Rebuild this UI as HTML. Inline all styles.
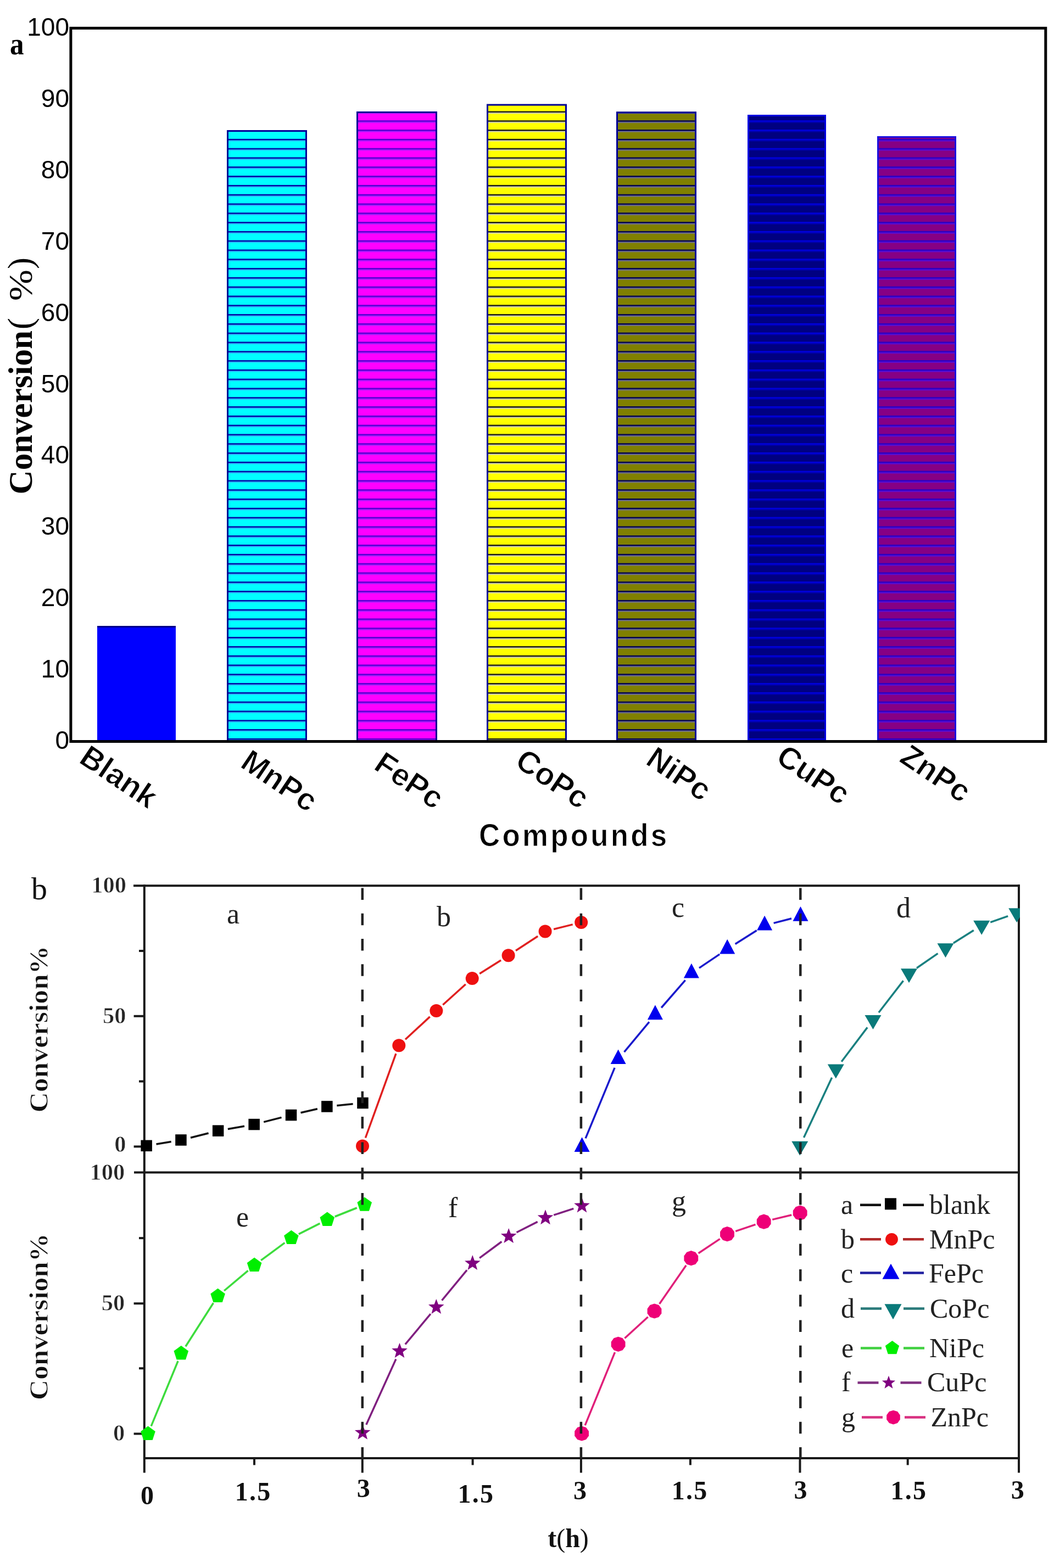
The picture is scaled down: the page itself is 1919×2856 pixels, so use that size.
<!DOCTYPE html>
<html><head><meta charset="utf-8"><title>Figure</title>
<style>html,body{margin:0;padding:0;background:#fff;}body{width:1919px;height:2856px;overflow:hidden;}svg{display:block;}</style>
</head><body>
<svg width="1919" height="2856" viewBox="0 0 1919 2856"><defs><pattern id="p1" patternUnits="userSpaceOnUse" x="0" y="1344.9" width="40" height="16.8"><rect width="40" height="16.8" fill="#00ffff"/><rect y="0" width="40" height="2.7" fill="#0000a0"/><rect y="2.7" width="40" height="1.8" fill="#30b8ff"/></pattern><pattern id="p2" patternUnits="userSpaceOnUse" x="0" y="1344.9" width="40" height="16.8"><rect width="40" height="16.8" fill="#ff00ff"/><rect y="0" width="40" height="2.7" fill="#5000d0"/><rect y="2.7" width="40" height="1.8" fill="#a020ff"/></pattern><pattern id="p3" patternUnits="userSpaceOnUse" x="0" y="1344.9" width="40" height="16.8"><rect width="40" height="16.8" fill="#ffff00"/><rect y="0" width="40" height="2.7" fill="#151515"/><rect y="2.7" width="40" height="1.8" fill="#d4d4d4"/></pattern><pattern id="p4" patternUnits="userSpaceOnUse" x="0" y="1344.9" width="40" height="16.8"><rect width="40" height="16.8" fill="#808000"/><rect y="0" width="40" height="2.7" fill="#000050"/><rect y="2.7" width="40" height="1.8" fill="#7070b0"/></pattern><pattern id="p5" patternUnits="userSpaceOnUse" x="0" y="1344.9" width="40" height="16.8"><rect width="40" height="16.8" fill="#000080"/><rect y="0" width="40" height="2.7" fill="#0000e0"/><rect y="2.7" width="40" height="1.8" fill="#0000b0"/></pattern><pattern id="p6" patternUnits="userSpaceOnUse" x="0" y="1344.9" width="40" height="16.8"><rect width="40" height="16.8" fill="#860084"/><rect y="0" width="40" height="2.7" fill="#2a00c4"/><rect y="2.7" width="40" height="1.8" fill="#5012e4"/></pattern><clipPath id="clipb"><rect x="240" y="1600" width="1617" height="1060"/></clipPath></defs>
<rect x="177" y="1140" width="143" height="210.5" fill="#0000ff"/>
<rect x="177" y="1140" width="143" height="3" fill="#00008b"/>
<rect x="413" y="237" width="146" height="1113.5" fill="url(#p1)"/>
<rect x="414.5" y="238.5" width="143" height="1112.0" fill="none" stroke="#000096" stroke-width="3"/>
<rect x="649" y="203" width="147" height="1147.5" fill="url(#p2)"/>
<rect x="650.5" y="204.5" width="144" height="1146.0" fill="none" stroke="#000096" stroke-width="3"/>
<rect x="886" y="189.5" width="146" height="1161.0" fill="url(#p3)"/>
<rect x="887.5" y="191.0" width="143" height="1159.5" fill="none" stroke="#000096" stroke-width="3"/>
<rect x="1122" y="203.5" width="146" height="1147.0" fill="url(#p4)"/>
<rect x="1123.5" y="205.0" width="143" height="1145.5" fill="none" stroke="#000096" stroke-width="3"/>
<rect x="1361" y="209" width="143" height="1141.5" fill="url(#p5)"/>
<rect x="1362.5" y="210.5" width="140" height="1140.0" fill="none" stroke="#0000e0" stroke-width="3"/>
<rect x="1597" y="248" width="144" height="1102.5" fill="url(#p6)"/>
<rect x="1598.5" y="249.5" width="141" height="1101.0" fill="none" stroke="#1a10e0" stroke-width="3"/>
<rect x="128.9" y="51.3" width="1774.9" height="1299.2" fill="none" stroke="#000" stroke-width="5"/>
<text x="126" y="65.0" font-family="'Liberation Sans', Arial, sans-serif" font-size="46" text-anchor="end" fill="#000">100</text>
<text x="126" y="194.9" font-family="'Liberation Sans', Arial, sans-serif" font-size="46" text-anchor="end" fill="#000">90</text>
<text x="126" y="324.8" font-family="'Liberation Sans', Arial, sans-serif" font-size="46" text-anchor="end" fill="#000">80</text>
<text x="126" y="454.7" font-family="'Liberation Sans', Arial, sans-serif" font-size="46" text-anchor="end" fill="#000">70</text>
<text x="126" y="584.6" font-family="'Liberation Sans', Arial, sans-serif" font-size="46" text-anchor="end" fill="#000">60</text>
<text x="126" y="714.5" font-family="'Liberation Sans', Arial, sans-serif" font-size="46" text-anchor="end" fill="#000">50</text>
<text x="126" y="844.4" font-family="'Liberation Sans', Arial, sans-serif" font-size="46" text-anchor="end" fill="#000">40</text>
<text x="126" y="974.3" font-family="'Liberation Sans', Arial, sans-serif" font-size="46" text-anchor="end" fill="#000">30</text>
<text x="126" y="1104.2" font-family="'Liberation Sans', Arial, sans-serif" font-size="46" text-anchor="end" fill="#000">20</text>
<text x="126" y="1234.1" font-family="'Liberation Sans', Arial, sans-serif" font-size="46" text-anchor="end" fill="#000">10</text>
<text x="126" y="1364.0" font-family="'Liberation Sans', Arial, sans-serif" font-size="46" text-anchor="end" fill="#000">0</text>
<text transform="translate(18,99) scale(0.88,1)" font-family="'Liberation Serif', 'Times New Roman', serif" font-weight="bold" font-size="58" fill="#000">a</text>
<text transform="translate(58,900.4) rotate(-90)" font-family="'Liberation Serif', 'Times New Roman', serif" font-weight="bold" font-size="61" fill="#000">Conversion</text>
<text transform="translate(58,600) rotate(-90)" font-family="'Liberation Serif', 'Times New Roman', serif" font-size="63" fill="#000">(</text>
<text transform="translate(58,548) rotate(-90) scale(1.12,1)" font-family="'Liberation Serif', 'Times New Roman', serif" font-size="61" fill="#000">%</text>
<text transform="translate(58,490) rotate(-90)" font-family="'Liberation Serif', 'Times New Roman', serif" font-size="63" fill="#000">)</text>
<text transform="translate(141.2,1387.4) rotate(34)" font-family="'Liberation Sans', Arial, sans-serif" font-weight="bold" font-size="57" fill="#000" stroke="#fff" stroke-width="1.2">Blank</text>
<text transform="translate(435,1395.7) rotate(34)" font-family="'Liberation Sans', Arial, sans-serif" font-weight="bold" font-size="57" fill="#000" stroke="#fff" stroke-width="1.2">MnPc</text>
<text transform="translate(678.1,1399.6) rotate(34)" font-family="'Liberation Sans', Arial, sans-serif" font-weight="bold" font-size="57" fill="#000" stroke="#fff" stroke-width="1.2">FePc</text>
<text transform="translate(934.7,1393.8) rotate(34)" font-family="'Liberation Sans', Arial, sans-serif" font-weight="bold" font-size="57" fill="#000" stroke="#fff" stroke-width="1.2">CoPc</text>
<text transform="translate(1172.9,1390.2) rotate(34)" font-family="'Liberation Sans', Arial, sans-serif" font-weight="bold" font-size="57" fill="#000" stroke="#fff" stroke-width="1.2">NiPc</text>
<text transform="translate(1409.8,1386.2) rotate(34)" font-family="'Liberation Sans', Arial, sans-serif" font-weight="bold" font-size="57" fill="#000" stroke="#fff" stroke-width="1.2">CuPc</text>
<text transform="translate(1635.2,1385.9) rotate(34)" font-family="'Liberation Sans', Arial, sans-serif" font-weight="bold" font-size="57" fill="#000" stroke="#fff" stroke-width="1.2">ZnPc</text>
<text transform="translate(872,1541) scale(0.92,1)" font-family="'Liberation Sans', Arial, sans-serif" font-weight="bold" font-size="57.5" textLength="372" lengthAdjust="spacing" fill="#000" stroke="#fff" stroke-width="1">Compounds</text>
<line x1="243" y1="1613.3" x2="1857" y2="1613.3" stroke="#1a1a1a" stroke-width="4"/>
<line x1="244" y1="2135.5" x2="1857" y2="2135.5" stroke="#1a1a1a" stroke-width="4"/>
<line x1="262.8" y1="2656" x2="1857" y2="2656" stroke="#1a1a1a" stroke-width="4"/>
<line x1="262.8" y1="1611.3" x2="262.8" y2="2682.5" stroke="#1a1a1a" stroke-width="4"/>
<line x1="1855" y1="1611.3" x2="1855" y2="2682.5" stroke="#1a1a1a" stroke-width="4"/>
<line x1="243.6" y1="2088.4" x2="262.8" y2="2088.4" stroke="#1a1a1a" stroke-width="4"/>
<line x1="243.6" y1="1850.8" x2="262.8" y2="1850.8" stroke="#1a1a1a" stroke-width="4"/>
<line x1="243.6" y1="2611.5" x2="262.8" y2="2611.5" stroke="#1a1a1a" stroke-width="4"/>
<line x1="243.6" y1="2374.2" x2="262.8" y2="2374.2" stroke="#1a1a1a" stroke-width="4"/>
<line x1="253" y1="1969.6" x2="262.8" y2="1969.6" stroke="#1a1a1a" stroke-width="4"/>
<line x1="253" y1="1732" x2="262.8" y2="1732" stroke="#1a1a1a" stroke-width="4"/>
<line x1="253" y1="2492.3" x2="262.8" y2="2492.3" stroke="#1a1a1a" stroke-width="4"/>
<line x1="253" y1="2255.1" x2="262.8" y2="2255.1" stroke="#1a1a1a" stroke-width="4"/>
<line x1="659.8" y1="2656" x2="659.8" y2="2682.5" stroke="#1a1a1a" stroke-width="4"/>
<line x1="1057.9" y1="2656" x2="1057.9" y2="2682.5" stroke="#1a1a1a" stroke-width="4"/>
<line x1="1456.5" y1="2656" x2="1456.5" y2="2682.5" stroke="#1a1a1a" stroke-width="4"/>
<line x1="463" y1="2656" x2="463" y2="2668.5" stroke="#1a1a1a" stroke-width="4"/>
<line x1="860.6" y1="2656" x2="860.6" y2="2668.5" stroke="#1a1a1a" stroke-width="4"/>
<line x1="1256.9" y1="2656" x2="1256.9" y2="2668.5" stroke="#1a1a1a" stroke-width="4"/>
<line x1="1652.7" y1="2656" x2="1652.7" y2="2668.5" stroke="#1a1a1a" stroke-width="4"/>
<text x="230" y="1626.4" font-family="'Liberation Serif', 'Times New Roman', serif" font-weight="bold" font-size="42.5" text-anchor="end" fill="#262626" stroke="#fff" stroke-width="0.8">100</text>
<text x="229.5" y="1864" font-family="'Liberation Serif', 'Times New Roman', serif" font-weight="bold" font-size="42.5" text-anchor="end" fill="#262626" stroke="#fff" stroke-width="0.8">50</text>
<text x="229.5" y="2097.8" font-family="'Liberation Serif', 'Times New Roman', serif" font-weight="bold" font-size="42.5" text-anchor="end" fill="#262626" stroke="#fff" stroke-width="0.8">0</text>
<text x="227.3" y="2148.6" font-family="'Liberation Serif', 'Times New Roman', serif" font-weight="bold" font-size="42.5" text-anchor="end" fill="#262626" stroke="#fff" stroke-width="0.8">100</text>
<text x="227.3" y="2387" font-family="'Liberation Serif', 'Times New Roman', serif" font-weight="bold" font-size="42.5" text-anchor="end" fill="#262626" stroke="#fff" stroke-width="0.8">50</text>
<text x="227.3" y="2624.2" font-family="'Liberation Serif', 'Times New Roman', serif" font-weight="bold" font-size="42.5" text-anchor="end" fill="#262626" stroke="#fff" stroke-width="0.8">0</text>
<text x="268" y="2740" font-family="'Liberation Serif', 'Times New Roman', serif" font-weight="bold" font-size="48" text-anchor="middle" fill="#111">0</text>
<text x="461.15" y="2732.8" font-family="'Liberation Serif', 'Times New Roman', serif" font-weight="bold" font-size="48" text-anchor="middle" letter-spacing="2.3" fill="#111">1.5</text>
<text x="661.7" y="2727" font-family="'Liberation Serif', 'Times New Roman', serif" font-weight="bold" font-size="48" text-anchor="middle" fill="#111">3</text>
<text x="866.9499999999999" y="2737.4" font-family="'Liberation Serif', 'Times New Roman', serif" font-weight="bold" font-size="48" text-anchor="middle" letter-spacing="2.3" fill="#111">1.5</text>
<text x="1056" y="2731" font-family="'Liberation Serif', 'Times New Roman', serif" font-weight="bold" font-size="48" text-anchor="middle" fill="#111">3</text>
<text x="1256.15" y="2731" font-family="'Liberation Serif', 'Times New Roman', serif" font-weight="bold" font-size="48" text-anchor="middle" letter-spacing="2.3" fill="#111">1.5</text>
<text x="1457.6" y="2730" font-family="'Liberation Serif', 'Times New Roman', serif" font-weight="bold" font-size="48" text-anchor="middle" fill="#111">3</text>
<text x="1654.8500000000001" y="2731" font-family="'Liberation Serif', 'Times New Roman', serif" font-weight="bold" font-size="48" text-anchor="middle" letter-spacing="2.3" fill="#111">1.5</text>
<text x="1852.7" y="2730" font-family="'Liberation Serif', 'Times New Roman', serif" font-weight="bold" font-size="48" text-anchor="middle" fill="#111">3</text>
<text x="1034.5" y="2817.5" font-family="'Liberation Serif', 'Times New Roman', serif" font-weight="bold" font-size="48" text-anchor="middle" fill="#111">t<tspan font-weight="normal">(</tspan>h<tspan font-weight="normal">)</tspan></text>
<text transform="translate(87,2026.5) rotate(-90)" font-family="'Liberation Serif', 'Times New Roman', serif" font-weight="bold" font-size="49" textLength="304" lengthAdjust="spacingAndGlyphs" fill="#111" stroke="#fff" stroke-width="0.9">Conversion%</text>
<text transform="translate(87,2550.3) rotate(-90)" font-family="'Liberation Serif', 'Times New Roman', serif" font-weight="bold" font-size="49" textLength="304" lengthAdjust="spacingAndGlyphs" fill="#111" stroke="#fff" stroke-width="0.9">Conversion%</text>
<text x="57" y="1638" font-family="'Liberation Serif', 'Times New Roman', serif" font-size="58" fill="#111">b</text>
<text x="413" y="1682" font-family="'Liberation Serif', 'Times New Roman', serif" font-size="52" fill="#222">a</text>
<text x="795" y="1687" font-family="'Liberation Serif', 'Times New Roman', serif" font-size="52" fill="#222">b</text>
<text x="1223" y="1670" font-family="'Liberation Serif', 'Times New Roman', serif" font-size="52" fill="#222">c</text>
<text x="1632" y="1671" font-family="'Liberation Serif', 'Times New Roman', serif" font-size="52" fill="#222">d</text>
<text x="430" y="2233.6" font-family="'Liberation Serif', 'Times New Roman', serif" font-size="52" fill="#222">e</text>
<text x="816" y="2216.8" font-family="'Liberation Serif', 'Times New Roman', serif" font-size="52" fill="#222">f</text>
<text x="1223" y="2205" font-family="'Liberation Serif', 'Times New Roman', serif" font-size="52" fill="#222">g</text>
<g clip-path="url(#clipb)">
<path d="M284.5,2083.9L311.7,2079.4M347.0,2072.2L379.6,2064.0M414.8,2056.5L445.0,2051.2M480.2,2043.6L512.5,2035.4M547.5,2026.8L577.9,2019.7M613.3,2013.7L642.6,2010.8" stroke="#111" stroke-width="3.5" fill="none"/>
<rect x="256.4" y="2076.6" width="20.5" height="20.5" fill="#000"/>
<rect x="319.2" y="2066.2" width="20.5" height="20.5" fill="#000"/>
<rect x="386.9" y="2049.4" width="20.5" height="20.5" fill="#000"/>
<rect x="452.4" y="2037.8" width="20.5" height="20.5" fill="#000"/>
<rect x="519.8" y="2020.8" width="20.5" height="20.5" fill="#000"/>
<rect x="585.1" y="2005.2" width="20.5" height="20.5" fill="#000"/>
<rect x="650.2" y="1998.8" width="20.5" height="20.5" fill="#000"/>
<path d="M665.4,2072.5L720.9,1919.2M738.0,1893.3L782.7,1851.9M806.3,1830.3L847.8,1792.8M873.2,1773.5L912.1,1748.9M939.0,1731.5L979.2,1705.2M1008.1,1692.5L1042.7,1683.9" stroke="#e02020" stroke-width="3.5" fill="none"/>
<circle cx="660" cy="2087.5" r="12.0" fill="#ee1010"/>
<circle cx="726.3" cy="1904.2" r="12.0" fill="#ee1010"/>
<circle cx="794.4" cy="1841" r="12.0" fill="#ee1010"/>
<circle cx="859.7" cy="1782.1" r="12.0" fill="#ee1010"/>
<circle cx="925.6" cy="1740.3" r="12.0" fill="#ee1010"/>
<circle cx="992.6" cy="1696.4" r="12.0" fill="#ee1010"/>
<circle cx="1058.2" cy="1680" r="12.0" fill="#ee1010"/>
<path d="M1066.1,2073.4L1119.1,1944.9M1136.5,1916.1L1182.0,1861.4M1204.1,1835.5L1247.7,1785.4M1273.0,1763.1L1310.1,1738.1M1338.6,1719.5L1377.7,1694.7M1408.6,1681.4L1441.0,1673.0" stroke="#1a1acc" stroke-width="3.5" fill="none"/>
<polygon points="1059.6,2071.3 1045.6,2098.0 1073.6,2098.0" fill="#0000ee"/>
<polygon points="1125.6,1911.4 1111.6,1938.1 1139.6,1938.1" fill="#0000ee"/>
<polygon points="1192.9,1830.5 1178.9,1857.2 1206.9,1857.2" fill="#0000ee"/>
<polygon points="1258.9,1754.8 1244.9,1781.5 1272.9,1781.5" fill="#0000ee"/>
<polygon points="1324.2,1710.8 1310.2,1737.5 1338.2,1737.5" fill="#0000ee"/>
<polygon points="1392.1,1667.8 1378.1,1694.5 1406.1,1694.5" fill="#0000ee"/>
<polygon points="1457.5,1651.0 1443.5,1677.7 1471.5,1677.7" fill="#0000ee"/>
<path d="M1463.5,2072.1L1514.6,1962.7M1532.1,1933.7L1579.2,1871.4M1599.9,1844.3L1644.6,1786.4M1669.0,1763.2L1707.5,1736.6M1735.9,1717.8L1772.8,1694.6M1803.2,1679.9L1835.2,1668.6" stroke="#1a8080" stroke-width="3.5" fill="none"/>
<polygon points="1441.3,2078.8 1471.3,2078.8 1456.3,2104.8" fill="#0a7a7a"/>
<polygon points="1506.8,1938.6 1536.8,1938.6 1521.8,1964.6" fill="#0a7a7a"/>
<polygon points="1574.5,1849.1 1604.5,1849.1 1589.5,1875.1" fill="#0a7a7a"/>
<polygon points="1640.0,1764.2 1670.0,1764.2 1655.0,1790.2" fill="#0a7a7a"/>
<polygon points="1706.5,1718.2 1736.5,1718.2 1721.5,1744.2" fill="#0a7a7a"/>
<polygon points="1772.2,1676.8 1802.2,1676.8 1787.2,1702.8" fill="#0a7a7a"/>
<polygon points="1836.2,1654.3 1866.2,1654.3 1851.2,1680.3" fill="#0a7a7a"/>
<path d="M275.2,2597.7L324.1,2479.0M337.9,2452.5L388.5,2373.3M408.1,2351.0L451.6,2314.3M475.1,2295.7L518.4,2263.6M543.8,2247.9L582.4,2228.4M609.7,2216.0L649.8,2200.0" stroke="#3ddc3d" stroke-width="3.5" fill="none"/>
<polygon points="269.5,2597.6 282.8,2607.3 277.7,2622.9 261.3,2622.9 256.2,2607.3" fill="#00ee00"/>
<polygon points="329.8,2451.1 343.1,2460.8 338.0,2476.4 321.6,2476.4 316.5,2460.8" fill="#00ee00"/>
<polygon points="396.6,2346.7 409.9,2356.4 404.8,2372.0 388.4,2372.0 383.3,2356.4" fill="#00ee00"/>
<polygon points="463.1,2290.6 476.4,2300.3 471.3,2315.9 454.9,2315.9 449.8,2300.3" fill="#00ee00"/>
<polygon points="530.4,2240.7 543.7,2250.4 538.6,2266.0 522.2,2266.0 517.1,2250.4" fill="#00ee00"/>
<polygon points="595.8,2207.6 609.1,2217.3 604.0,2232.9 587.6,2232.9 582.5,2217.3" fill="#00ee00"/>
<polygon points="663.7,2180.4 677.0,2190.1 671.9,2205.7 655.5,2205.7 650.4,2190.1" fill="#00ee00"/>
<path d="M666.8,2595.0L720.9,2475.5M737.8,2448.6L784.0,2393.2M804.5,2368.6L850.1,2313.3M873.1,2291.4L913.4,2261.5M940.5,2244.7L978.7,2225.4M1008.2,2213.2L1044.3,2201.3" stroke="#802080" stroke-width="3.5" fill="none"/>
<polygon points="660.2,2594.6 663.9,2604.5 674.5,2605.0 666.2,2611.5 669.0,2621.7 660.2,2615.9 651.4,2621.7 654.2,2611.5 645.9,2605.0 656.5,2604.5" fill="#800080"/>
<polygon points="727.5,2445.9 731.2,2455.8 741.8,2456.3 733.5,2462.8 736.3,2473.0 727.5,2467.2 718.7,2473.0 721.5,2462.8 713.2,2456.3 723.8,2455.8" fill="#800080"/>
<polygon points="794.3,2365.9 798.0,2375.8 808.6,2376.3 800.3,2382.8 803.1,2393.0 794.3,2387.2 785.5,2393.0 788.3,2382.8 780.0,2376.3 790.6,2375.8" fill="#800080"/>
<polygon points="860.3,2286.0 864.0,2295.9 874.6,2296.4 866.3,2302.9 869.1,2313.1 860.3,2307.3 851.5,2313.1 854.3,2302.9 846.0,2296.4 856.6,2295.9" fill="#800080"/>
<polygon points="926.2,2236.9 929.9,2246.8 940.5,2247.3 932.2,2253.8 935.0,2264.0 926.2,2258.2 917.4,2264.0 920.2,2253.8 911.9,2247.3 922.5,2246.8" fill="#800080"/>
<polygon points="993.0,2203.2 996.7,2213.1 1007.3,2213.6 999.0,2220.1 1001.8,2230.3 993.0,2224.5 984.2,2230.3 987.0,2220.1 978.7,2213.6 989.3,2213.1" fill="#800080"/>
<polygon points="1059.5,2181.3 1063.2,2191.2 1073.8,2191.7 1065.5,2198.2 1068.3,2208.4 1059.5,2202.6 1050.7,2208.4 1053.5,2198.2 1045.2,2191.7 1055.8,2191.2" fill="#800080"/>
<path d="M1065.2,2596.2L1119.5,2463.1M1137.4,2437.5L1179.7,2398.8M1200.6,2374.9L1249.2,2304.8M1271.6,2282.8L1310.7,2256.6M1339.2,2242.6L1375.5,2230.3M1406.2,2221.4L1441.2,2213.0" stroke="#e0207a" stroke-width="3.5" fill="none"/>
<polygon points="1059.1,2597.4 1067.1,2600.0 1072.0,2606.8 1072.0,2615.2 1067.1,2622.0 1059.1,2624.6 1051.1,2622.0 1046.2,2615.2 1046.2,2606.8 1051.1,2600.0" fill="#ee0077"/>
<polygon points="1125.6,2434.7 1133.6,2437.3 1138.5,2444.1 1138.5,2452.5 1133.6,2459.3 1125.6,2461.9 1117.6,2459.3 1112.7,2452.5 1112.7,2444.1 1117.6,2437.3" fill="#ee0077"/>
<polygon points="1191.5,2374.4 1199.5,2377.0 1204.4,2383.8 1204.4,2392.2 1199.5,2399.0 1191.5,2401.6 1183.5,2399.0 1178.6,2392.2 1178.6,2383.8 1183.5,2377.0" fill="#ee0077"/>
<polygon points="1258.3,2278.1 1266.3,2280.7 1271.2,2287.5 1271.2,2295.9 1266.3,2302.7 1258.3,2305.3 1250.3,2302.7 1245.4,2295.9 1245.4,2287.5 1250.3,2280.7" fill="#ee0077"/>
<polygon points="1324.0,2234.1 1332.0,2236.7 1336.9,2243.5 1336.9,2251.9 1332.0,2258.7 1324.0,2261.3 1316.0,2258.7 1311.1,2251.9 1311.1,2243.5 1316.0,2236.7" fill="#ee0077"/>
<polygon points="1390.7,2211.6 1398.7,2214.2 1403.6,2221.0 1403.6,2229.4 1398.7,2236.2 1390.7,2238.8 1382.7,2236.2 1377.8,2229.4 1377.8,2221.0 1382.7,2214.2" fill="#ee0077"/>
<polygon points="1456.7,2195.6 1464.7,2198.2 1469.6,2205.0 1469.6,2213.4 1464.7,2220.2 1456.7,2222.8 1448.7,2220.2 1443.8,2213.4 1443.8,2205.0 1448.7,2198.2" fill="#ee0077"/>
</g>
<line x1="659.8" y1="1617.4" x2="659.8" y2="2656" stroke="#222" stroke-width="4.5" stroke-dasharray="21.5 24.8"/>
<line x1="1057.9" y1="1617.4" x2="1057.9" y2="2656" stroke="#222" stroke-width="4.5" stroke-dasharray="21.5 24.8"/>
<line x1="1457.3" y1="1617.4" x2="1457.3" y2="2656" stroke="#222" stroke-width="4.5" stroke-dasharray="21.5 24.8"/>
<text x="1531" y="2211" font-family="'Liberation Serif', 'Times New Roman', serif" font-size="50" fill="#222">a</text>
<line x1="1566" y1="2194.8" x2="1604" y2="2194.8" stroke="#111" stroke-width="4.5"/>
<line x1="1644" y1="2194.8" x2="1682" y2="2194.8" stroke="#111" stroke-width="4.5"/>
<rect x="1611.0" y="2182.3" width="21" height="21" fill="#000"/>
<text x="1692" y="2211" font-family="'Liberation Serif', 'Times New Roman', serif" font-size="50" fill="#222">blank</text>
<text x="1531" y="2274" font-family="'Liberation Serif', 'Times New Roman', serif" font-size="50" fill="#222">b</text>
<line x1="1566" y1="2257.3" x2="1604" y2="2257.3" stroke="#b02828" stroke-width="4.5"/>
<line x1="1644" y1="2257.3" x2="1682" y2="2257.3" stroke="#b02828" stroke-width="4.5"/>
<circle cx="1623.5" cy="2257.3" r="11.399999999999999" fill="#ee1010"/>
<text x="1692" y="2274" font-family="'Liberation Serif', 'Times New Roman', serif" font-size="50" fill="#222">MnPc</text>
<text x="1531" y="2336.4" font-family="'Liberation Serif', 'Times New Roman', serif" font-size="50" fill="#222">c</text>
<line x1="1566" y1="2318.5" x2="1604" y2="2318.5" stroke="#2020a0" stroke-width="4.5"/>
<line x1="1644" y1="2318.5" x2="1682" y2="2318.5" stroke="#2020a0" stroke-width="4.5"/>
<polygon points="1622.0,2301.8 1606.5,2329.8 1637.5,2329.8" fill="#0000ee"/>
<text x="1691" y="2336.4" font-family="'Liberation Serif', 'Times New Roman', serif" font-size="50" fill="#222">FePc</text>
<text x="1531" y="2400.2" font-family="'Liberation Serif', 'Times New Roman', serif" font-size="50" fill="#222">d</text>
<line x1="1567" y1="2383.5" x2="1605" y2="2383.5" stroke="#2a7a7a" stroke-width="4.5"/>
<line x1="1645" y1="2383.5" x2="1683" y2="2383.5" stroke="#2a7a7a" stroke-width="4.5"/>
<polygon points="1610.5,2375.2 1641.5,2375.2 1626.0,2403.2" fill="#0a7a7a"/>
<text x="1693" y="2400.2" font-family="'Liberation Serif', 'Times New Roman', serif" font-size="50" fill="#222">CoPc</text>
<text x="1532" y="2471.7" font-family="'Liberation Serif', 'Times New Roman', serif" font-size="50" fill="#222">e</text>
<line x1="1567" y1="2455.4" x2="1605" y2="2455.4" stroke="#40d040" stroke-width="4.5"/>
<line x1="1645" y1="2455.4" x2="1683" y2="2455.4" stroke="#40d040" stroke-width="4.5"/>
<polygon points="1624.5,2442.1 1637.1,2451.3 1632.3,2466.2 1616.7,2466.2 1611.9,2451.3" fill="#00ee00"/>
<text x="1692" y="2471.7" font-family="'Liberation Serif', 'Times New Roman', serif" font-size="50" fill="#222">NiPc</text>
<text x="1532" y="2533.9" font-family="'Liberation Serif', 'Times New Roman', serif" font-size="50" fill="#222">f</text>
<line x1="1561.5" y1="2518.6" x2="1599.5" y2="2518.6" stroke="#803080" stroke-width="4.5"/>
<line x1="1639.5" y1="2518.6" x2="1677.5" y2="2518.6" stroke="#803080" stroke-width="4.5"/>
<polygon points="1618.0,2505.8 1621.1,2514.3 1630.1,2514.7 1623.1,2520.3 1625.5,2528.9 1618.0,2524.0 1610.5,2528.9 1612.9,2520.3 1605.9,2514.7 1614.9,2514.3" fill="#800080"/>
<text x="1688" y="2533.9" font-family="'Liberation Serif', 'Times New Roman', serif" font-size="50" fill="#222">CuPc</text>
<text x="1532" y="2597.7" font-family="'Liberation Serif', 'Times New Roman', serif" font-size="50" fill="#222">g</text>
<line x1="1569" y1="2581.6" x2="1607" y2="2581.6" stroke="#d83080" stroke-width="4.5"/>
<line x1="1647" y1="2581.6" x2="1685" y2="2581.6" stroke="#d83080" stroke-width="4.5"/>
<polygon points="1626.5,2568.7 1634.1,2571.1 1638.8,2577.6 1638.8,2585.6 1634.1,2592.1 1626.5,2594.5 1618.9,2592.1 1614.2,2585.6 1614.2,2577.6 1618.9,2571.1" fill="#ee0077"/>
<text x="1694.5" y="2597.7" font-family="'Liberation Serif', 'Times New Roman', serif" font-size="50" fill="#222">ZnPc</text></svg>
</body></html>
